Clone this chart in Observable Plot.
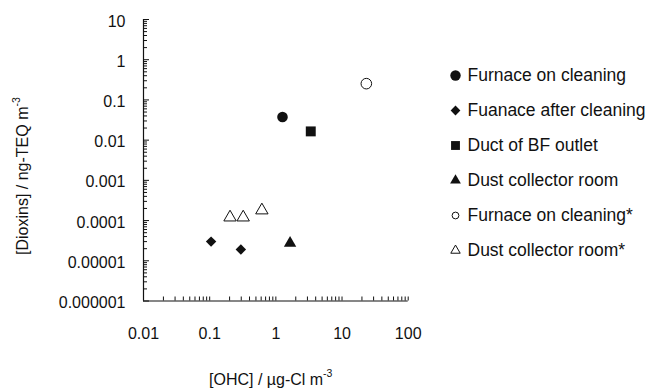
<!DOCTYPE html>
<html><head><meta charset="utf-8">
<script src="https://cdn.jsdelivr.net/npm/d3@7"></script>
<script src="https://cdn.jsdelivr.net/npm/@observablehq/plot@0.6"></script>
<style>body{margin:0;background:#fff}</style>
</head><body><div id="chart"></div>
<script>
// ---- data ----
const seriesNames = ["Furnace on cleaning","Fuanace after cleaning","Duct of BF outlet","Dust collector room","Furnace on cleaning*","Dust collector room*"];
const furnaceOnX = [1.26],  furnaceOnY = [0.0375];
const furnaceAfterX = [0.105, 0.296], furnaceAfterY = [3.0e-5, 1.9e-5];
const ductX = [3.37], ductY = [0.0165];
const dustX = [1.64], dustY = [2.75e-5];
const furnaceOnStarX = [23.3], furnaceOnStarY = [0.254];
const dustStarX = [0.203, 0.321, 0.615], dustStarY = [1.2e-4, 1.2e-4, 1.8e-4];
const xTicks = [0.01, 0.1, 1, 10, 100];
const xTickLabels = ["0.01","0.1","1","10","100"];
const yTicks = [1e-6, 1e-5, 1e-4, 1e-3, 1e-2, 1e-1, 1, 10];
const yTickLabels = ["0.000001","0.00001","0.0001","0.001","0.01","0.1","1","10"];
const xTitle = "[OHC] / µg-Cl m", xTitleSup = "-3";
const yTitle = "[Dioxins] / ng-TEQ m", yTitleSup = "-3";

const minorOf = (majors) => majors.slice(0, -1).flatMap(m => d3.range(2, 10).map(k => m * k));
const pts = (xs, ys) => xs.map((x, i) => ({x, y: ys[i]}));
const font = "'Liberation Sans', Arial, sans-serif";
const ink = "#111";

const styles = [
  {symbol: "circle",   r: 5.3, fill: ink,     stroke: "none", lr: 5.2, lfill: ink, lstroke: "none"},
  {symbol: "diamond2", r: 4.7, fill: ink,     stroke: "none", lr: 4.4, lfill: ink, lstroke: "none"},
  {symbol: "square",   r: 5.6, fill: ink,     stroke: "none", lr: 5.0, lfill: ink, lstroke: "none"},
  {symbol: "triangle", r: 4.6, fill: ink,     stroke: "none", lr: 4.0, lfill: ink, lstroke: "none"},
  {symbol: "circle",   r: 5.3, fill: "white", stroke: ink,    lr: 3.4, lfill: "white", lstroke: ink},
  {symbol: "triangle", r: 4.6, fill: "white", stroke: ink,    lr: 3.5, lfill: "white", lstroke: ink}
];
const seriesData = [
  pts(furnaceOnX, furnaceOnY), pts(furnaceAfterX, furnaceAfterY), pts(ductX, ductY),
  pts(dustX, dustY), pts(furnaceOnStarX, furnaceOnStarY), pts(dustStarX, dustStarY)
];

const ML = 143, MT = 19;
const legendMarkX = 455, legendTextX = 467, legendY0 = 75, legendStep = 35;

const marks = [
  Plot.ruleX([0.01], {stroke: ink, strokeWidth: 1.2}),
  Plot.ruleY([1e-6], {stroke: ink, strokeWidth: 1.2}),
  Plot.axisX(minorOf(xTicks), {tickSize: -4, tickFormat: () => "", stroke: ink, label: null}),
  Plot.axisX(xTicks, {tickSize: -4, tickFormat: () => "", stroke: ink, label: null}),
  Plot.axisX(xTicks, {tickSize: 0, tickPadding: 27, tickFormat: d => xTickLabels[xTicks.indexOf(d)], label: null, fontSize: 16, fill: ink}),
  Plot.axisY(minorOf(yTicks), {tickSize: -4, tickFormat: () => "", stroke: ink, label: null}),
  Plot.axisY(yTicks, {tickSize: -6, tickFormat: () => "", stroke: ink, label: null}),
  Plot.axisY(yTicks, {tickSize: 0, tickPadding: 18, dy: 2, tickFormat: d => yTickLabels[yTicks.indexOf(d)], label: null, fontSize: 16, fill: ink})
];
seriesData.forEach((data, i) => {
  const s = styles[i];
  marks.push(Plot.dot(data, {x: "x", y: "y", symbol: s.symbol, r: s.r, fill: s.fill, stroke: s.stroke, strokeWidth: 1}));
  marks.push(Plot.dot([seriesNames[i]], {frameAnchor: "top-left", dx: legendMarkX - ML, dy: legendY0 + i * legendStep - MT, symbol: s.symbol, r: s.lr, fill: s.lfill, stroke: s.lstroke, strokeWidth: 1}));
  marks.push(Plot.text([seriesNames[i]], {frameAnchor: "top-left", text: d => d, dx: legendTextX - ML, dy: legendY0 + i * legendStep - MT, textAnchor: "start", lineAnchor: "middle", fontSize: 17.5, fill: ink}));
});

const chart = Plot.plot({
  width: 647, height: 391,
  marginLeft: ML, marginRight: 239.3, marginTop: MT, marginBottom: 90.5,
  x: {type: "log", domain: [0.01, 100], label: null},
  y: {type: "log", domain: [1e-6, 10], label: null},
  style: {fontFamily: font, fontSize: "16px", color: ink, background: "white", overflow: "visible"},
  marks
});
document.getElementById("chart").appendChild(chart);

const svg = d3.select(chart);
const xt = svg.append("text").attr("x", 209).attr("y", 385).attr("text-anchor", "start").attr("font-family", font).attr("font-size", 16).attr("fill", ink);
xt.append("tspan").text(xTitle);
xt.append("tspan").attr("dy", -8).attr("font-size", 10.5).text(xTitleSup);
const yt = svg.append("text").attr("transform", "translate(28,255) rotate(-90)").attr("text-anchor", "start").attr("font-family", font).attr("font-size", 16).attr("fill", ink);
yt.append("tspan").text(yTitle);
yt.append("tspan").attr("dy", -8).attr("font-size", 10.5).text(yTitleSup);
</script>
</body></html>
